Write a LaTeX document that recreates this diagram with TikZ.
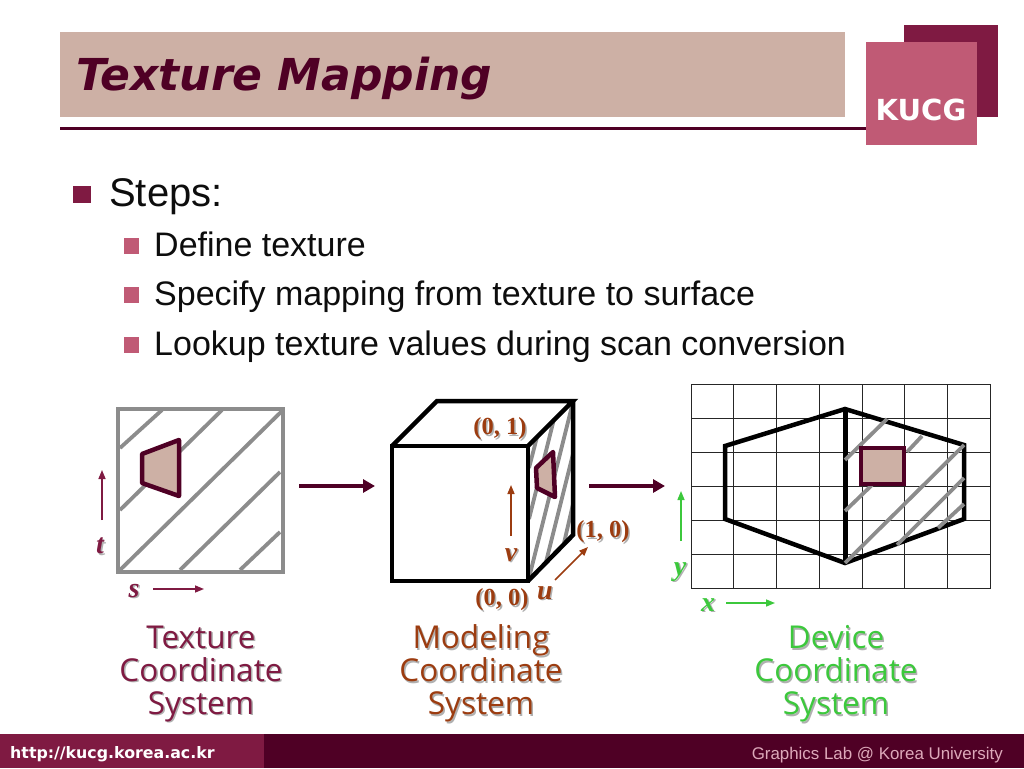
\documentclass[tikz,border=0pt]{standalone}
\usepackage{fontspec}
\setmainfont{Liberation Sans}
\newfontfamily\serifbf{Liberation Serif}
\newfontfamily\capfont{Open Sans}
\newfontfamily\urlfont{DejaVu Sans}
\usetikzlibrary{arrows.meta}
\definecolor{wine}{HTML}{4F0025}
\definecolor{plum}{HTML}{7F1A42}
\definecolor{rose}{HTML}{C05A75}
\definecolor{sand}{HTML}{CDB0A5}
\definecolor{hatch}{HTML}{8C8C8C}
\definecolor{rust}{HTML}{9C3C10}
\definecolor{leaf}{HTML}{3CC83C}
\definecolor{shade}{HTML}{B0B0B0}
\definecolor{pinkish}{HTML}{DDA9BA}
\tikzset{
  txt/.style={inner sep=0pt, anchor=base west},
  subitem/.style={txt, font=\fontsize{34}{34}\selectfont, text=black!95},
  caption/.style={inner sep=0pt, font=\capfont\fontsize{31.5}{33}\selectfont, align=center, text depth=0pt},
  coordlab/.style={inner sep=0pt, font=\serifbf\bfseries\fontsize{24.5}{24.5}\selectfont},
  axislab/.style={inner sep=0pt, font=\serifbf\bfseries\itshape\fontsize{28}{28}\selectfont},
  frame/.style={draw=hatch, line width=4.5pt},
  edge/.style={draw=black, line width=4.5pt, line join=miter},
  hatchline/.style={draw=hatch, line width=3.8pt},
  patch/.style={draw=wine, fill=sand, line width=4.5pt, line join=round},
  bigarrow/.style={draw=wine, line width=3.5pt, -{Triangle[length=12pt,width=13pt]}},
  axis/.style={line width=1.5pt, -{Triangle[length=9pt,width=7pt]}},
  gridline/.style={draw=black!85, line width=1pt},
}
% gray copy first, then the text over it
\newcommand{\shnode}[4]{
  \node[#3, text=shade] at ([shift={(1.5,1.5)}]#2) {#4};
  \node[#3] (#1) at (#2) {#4};
}
\begin{document}
\begin{tikzpicture}[x=1pt,y=-1pt]
\useasboundingbox (0,0) rectangle (1024,768);
% header
\fill[sand] (60,32) rectangle (845,117);
\node[txt, font=\urlfont\bfseries\itshape\fontsize{44}{44}\selectfont, text=wine] (title) at (76,90) {Texture Mapping};
\draw[wine, line width=3pt] (60,128) -- (866,128);
\fill[plum] (904,25) rectangle (998,117);
\fill[rose] (866,42) rectangle (977,145);
\node[inner sep=0pt, font=\urlfont\bfseries\fontsize{29}{29}\selectfont, text=white] (logo) at (921,110) {KUCG};
% bullets
\fill[plum] (73,186) rectangle (91,203);
\node[txt, font=\fontsize{40}{40}\selectfont, text=black!95] (steps) at (109,206.5) {Steps:};
\foreach \y/\s/\t in {246/a/Define texture, 295/b/Specify mapping from texture to surface, 345/c/Lookup texture values during scan conversion}{
  \fill[rose] (124,\y-8) rectangle (139,\y+8);
  \node[subitem] (item\s) at (154,\y+10.5) {\t};
}
% texture square
\foreach \xa/\ya/\xb/\yb in {120/448/162/410, 120/510/222/410, 120/570/283/410, 180/570/280/472, 240/570/280/532}
  \draw[hatchline] (\xa,\ya) -- (\xb,\yb);
\draw[frame] (118,409) rectangle (283,572);
\draw[patch] (142,454) -- (179,440) -- (179,496) -- (142,483) -- cycle;
\draw[axis, plum] (102,520) -- (102,470);
\draw[axis, plum] (153,589) -- (204,589);
\shnode{tlab}{100,546}{axislab, text=plum}{t}
\shnode{slab}{134,591}{axislab, text=plum}{s}
\shnode{texcap}{201,670}{caption, text=plum}{Texture\\Coordinate\\System}
\coordinate (texout) at (299,486);
\coordinate (modin) at (375,486);
\draw[bigarrow] (texout) -- (modin);
% cube
\foreach \xa/\ya/\xb/\yb in {529/468/537/437, 529/519/554/419, 529/578/573/402, 546/562/573/454, 564/543/573/504}
  \draw[hatchline] (\xa,\ya) -- (\xb,\yb);
\draw[edge] (392,446) rectangle (528,581);
\draw[edge] (392,446) -- (437,401) -- (573,401) -- (528,446);
\draw[edge] (573,401) -- (573,535) -- (528,581);
\draw[patch] (536,468) -- (553,452) -- (555,497) -- (537,488) -- cycle;
\draw[axis, rust] (511,536) -- (511,485);
\draw[axis, rust] (555,580) -- (588,547);
\shnode{vlab}{511,555}{axislab, text=rust}{v}
\shnode{ulab}{545,593}{axislab, text=rust}{u}
\shnode{c01}{500,429}{coordlab, text=rust}{(0, 1)}
\shnode{c10}{603,532}{coordlab, text=rust}{(1, 0)}
\shnode{c00}{502,600}{coordlab, text=rust}{(0, 0)}
\shnode{modcap}{481,670}{caption, text=rust}{Modeling\\Coordinate\\System}
\coordinate (modout) at (589,486);
\coordinate (devin) at (665,486);
\draw[bigarrow] (modout) -- (devin);
% device grid
\foreach \x in {733,776,819,862,904,947}
  \draw[gridline] (\x,384) -- (\x,588);
\foreach \y in {418,452,486,520,554}
  \draw[gridline] (691,\y) -- (990,\y);
\draw[gridline] (691,384) rectangle (990,588);
\draw[edge] (845,409) -- (725,446) -- (725,519) -- (845,563) -- (964,519) -- (964,445) -- cycle;
\draw[black, line width=5pt] (845,409) -- (845,563);
\foreach \xa/\ya/\xb/\yb in {845/460/887/419, 907/452/922/436, 845/511/872/485, 845/563/964/445, 897/545/964/478, 938/528/964/504}
  \draw[hatchline] (\xa,\ya) -- (\xb,\yb);
\draw[patch, line join=miter] (861,448) rectangle (904,484);
\draw[axis, leaf] (681,541) -- (681,491);
\draw[axis, leaf] (726,603) -- (775,603);
\shnode{ylab}{680,572}{axislab, text=leaf}{y}
\shnode{xlab}{708,605}{axislab, text=leaf}{x}
\shnode{devcap}{836,670}{caption, text=leaf}{Device\\Coordinate\\System}
% footer
\fill[wine] (0,734) rectangle (1024,768);
\fill[plum] (0,734) rectangle (264,768);
\node[txt, font=\urlfont\bfseries\fontsize{15.8}{15.8}\selectfont, text=white] (url) at (10,758) {http://kucg.korea.ac.kr};
\node[inner sep=0pt, anchor=base east, font=\fontsize{16.9}{16.9}\selectfont, text=pinkish] (lab) at (1003,759.5) {Graphics Lab @ Korea University};
\end{tikzpicture}
\end{document}
